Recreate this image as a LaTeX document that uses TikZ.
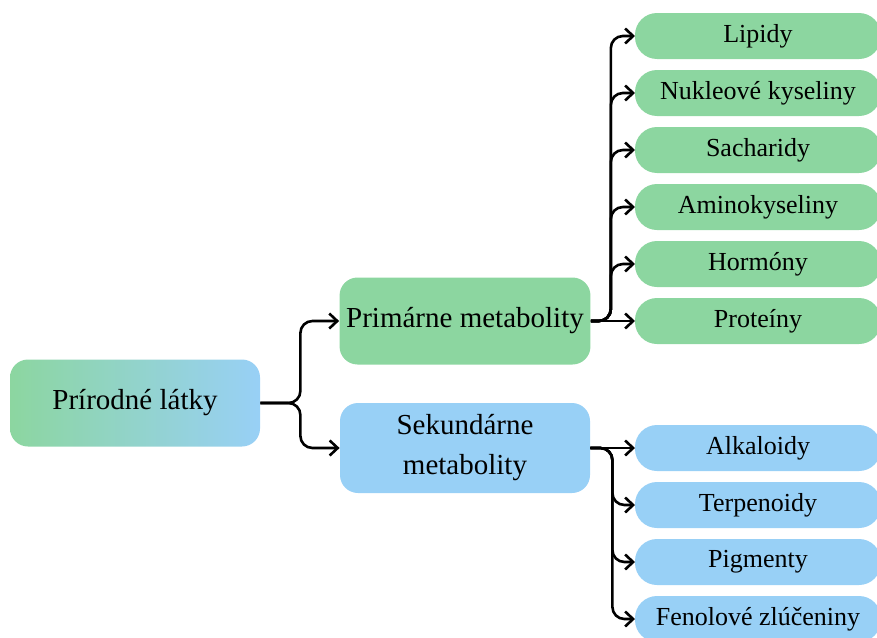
\documentclass[tikz,border=0pt]{standalone}
\usepackage{fontspec}
\setmainfont{Liberation Serif}
\usetikzlibrary{arrows.meta,positioning}
\definecolor{primgreen}{RGB}{140,214,160}
\definecolor{sekblue}{RGB}{152,208,246}

\begin{document}
\begin{tikzpicture}[x=0.5pt,y=-0.5pt,node distance=5.5pt,
  mainbox/.style={rounded corners=9pt,minimum width=125pt,minimum height=43.5pt,align=center,font=\fontsize{14.5}{20}\selectfont},
  leafbox/.style={rounded corners=11pt,minimum width=123pt,minimum height=23pt,outer sep=0pt,font=\fontsize{13}{15}\selectfont},
  link/.style={-{Straight Barb[length=4pt,width=7.5pt]},line width=1.3pt,rounded corners=6pt}]
\useasboundingbox (0,0) rectangle (877,637);
\node[mainbox,left color=primgreen,right color=sekblue] (natur) at (135,403) {Prírodné látky};
\node[mainbox,fill=primgreen] (prim) at (465,321) {Primárne metabolity};
\node[mainbox,fill=sekblue,minimum height=45pt] (sek) at (465,448) {Sekundárne\\metabolity};
% primarne
\node[leafbox,fill=primgreen] (p1) at (758,36) {Lipidy};
\node[leafbox,fill=primgreen,below=of p1] (p2) {Nukleové kyseliny};
\node[leafbox,fill=primgreen,below=of p2] (p3) {Sacharidy};
\node[leafbox,fill=primgreen,below=of p3] (p4) {Aminokyseliny};
\node[leafbox,fill=primgreen,below=of p4] (p5) {Hormóny};
\node[leafbox,fill=primgreen,below=of p5] (p6) {Proteíny};
% sekundarne
\node[leafbox,fill=sekblue] (s1) at (758,448) {Alkaloidy};
\node[leafbox,fill=sekblue,below=of s1] (s2) {Terpenoidy};
\node[leafbox,fill=sekblue,below=of s2] (s3) {Pigmenty};
\node[leafbox,fill=sekblue,below=of s3] (s4) {Fenolové zlúčeniny};
\foreach \t in {prim,sek} \draw[link] (natur.east) -- ++(40,0) |- (\t.west);
\foreach \t in {p1,p2,p3,p4,p5} \draw[link] (prim.east) -- ++(20,0) |- (\t.west);
\draw[link] (prim.east) -- (p6.west);
\foreach \t in {s2,s3,s4} \draw[link] (sek.east) -- ++(22,0) |- (\t.west);
\draw[link] (sek.east) -- (s1.west);
\end{tikzpicture}
\end{document}
